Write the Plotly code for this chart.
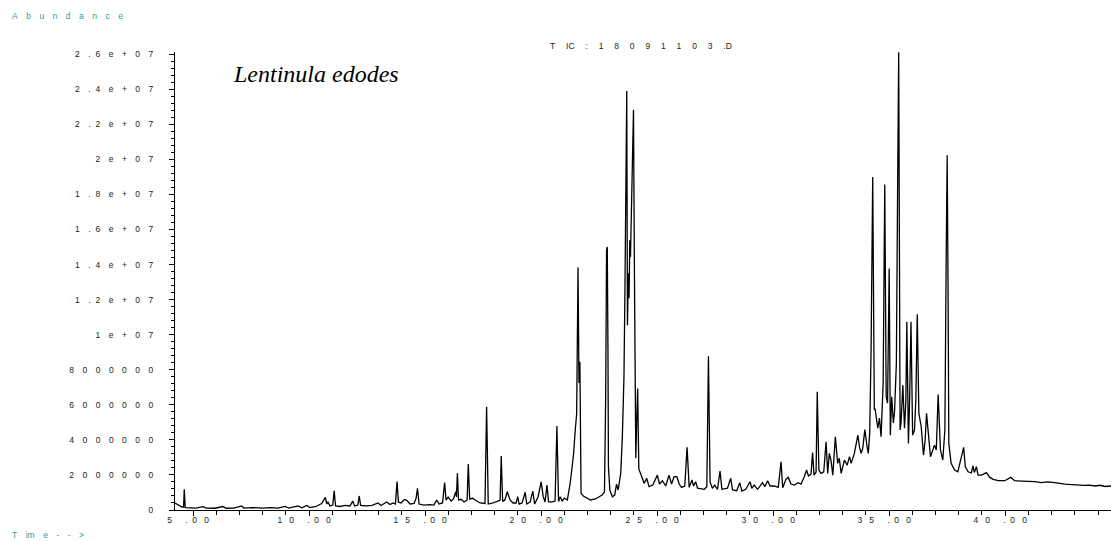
import plotly.graph_objects as go

# ---- chromatogram trace (time in min, abundance in millions) ----
time_min = [
    4.22, 4.35, 4.52, 4.59, 4.62, 4.66, 4.87, 5.13, 5.43, 5.56, 5.94, 6.29, 6.42, 6.76, 7.09, 7.19,
    7.54, 7.97, 8.36, 8.66, 8.96, 9.13, 9.52, 9.69, 9.90, 10.04, 10.30, 10.54, 10.70, 10.76, 10.81,
    10.90, 11.02, 11.08, 11.14, 11.33, 11.55, 11.76, 11.88, 11.96, 12.10, 12.16, 12.22, 12.45, 12.71,
    12.97, 13.10, 13.34, 13.49, 13.62, 13.72, 13.79, 13.85, 13.96, 14.11, 14.22, 14.35, 14.52, 14.61,
    14.67, 14.74, 14.95, 15.21, 15.38, 15.50, 15.60, 15.75, 15.84, 15.90, 15.99, 16.12, 16.22, 16.32,
    16.35, 16.39, 16.44, 16.55, 16.68, 16.81, 16.86, 16.92, 17.06, 17.15, 17.37, 17.58, 17.65, 17.72,
    17.92, 18.14, 18.23, 18.28, 18.34, 18.44, 18.54, 18.66, 18.79, 18.92, 18.99, 19.05, 19.18, 19.31,
    19.38, 19.53, 19.64, 19.72, 19.87, 20.00, 20.09, 20.17, 20.25, 20.32, 20.47, 20.60, 20.68, 20.75,
    20.82, 20.91, 21.00, 21.13, 21.18, 21.25, 21.32, 21.40, 21.47, 21.53, 21.59, 21.63, 21.67, 21.72,
    21.82, 21.98, 22.13, 22.34, 22.52, 22.63, 22.73, 22.78, 22.82, 22.85, 22.88, 22.90, 22.96, 23.07,
    23.17, 23.25, 23.32, 23.43, 23.50, 23.57, 23.61, 23.66, 23.69, 23.72, 23.76, 23.79, 23.82, 23.85,
    23.89, 23.92, 23.98, 24.02, 24.05, 24.08, 24.12, 24.16, 24.21, 24.29, 24.44, 24.55, 24.65, 24.81,
    25.01, 25.10, 25.23, 25.37, 25.51, 25.62, 25.73, 25.85, 25.95, 26.05, 26.19, 26.29, 26.38, 26.50,
    26.57, 26.66, 26.74, 27.03, 27.14, 27.21, 27.28, 27.38, 27.48, 27.60, 27.71, 27.79, 28.03, 28.17,
    28.25, 28.43, 28.56, 28.65, 28.82, 29.00, 29.08, 29.18, 29.33, 29.54, 29.64, 29.76, 29.87, 30.05,
    30.22, 30.34, 30.41, 30.55, 30.65, 30.77, 30.91, 31.08, 31.20, 31.34, 31.44, 31.52, 31.63, 31.70,
    31.76, 31.85, 31.90, 31.97, 32.06, 32.18, 32.28, 32.35, 32.42, 32.49, 32.57, 32.68, 32.78, 32.85,
    32.93, 33.07, 33.19, 33.29, 33.36, 33.50, 33.65, 33.72, 33.79, 33.86, 33.95, 34.05, 34.10, 34.16,
    34.22, 34.29, 34.34, 34.36, 34.39, 34.46, 34.51, 34.58, 34.65, 34.74, 34.81, 34.87, 34.93, 35.00,
    35.05, 35.11, 35.18, 35.23, 35.31, 35.36, 35.41, 35.45, 35.47, 35.51, 35.59, 35.66, 35.72, 35.76,
    35.83, 35.88, 35.94, 36.01, 36.09, 36.15, 36.21, 36.28, 36.38, 36.48, 36.55, 36.61, 36.68, 36.78,
    36.95, 37.03, 37.11, 37.21, 37.31, 37.40, 37.46, 37.50, 37.54, 37.57, 37.67, 37.82, 37.96, 38.11,
    38.21, 38.28, 38.40, 38.54, 38.61, 38.67, 38.76, 38.83, 38.98, 39.19, 39.34, 39.48, 39.70, 39.98,
    40.24, 40.41, 40.70, 40.99, 41.27, 41.57, 41.83, 42.14, 42.34, 42.57, 42.86, 43.15, 43.42, 43.64,
    43.87, 44.09, 44.30, 44.56,
]

abundance_millions = [
    0.40, 0.28, 0.17, 0.17, 1.18, 0.14, 0.11, 0.11, 0.19, 0.11, 0.10, 0.20, 0.10, 0.11, 0.23, 0.11,
    0.14, 0.11, 0.14, 0.11, 0.20, 0.11, 0.23, 0.13, 0.26, 0.14, 0.20, 0.37, 0.72, 0.34, 0.47,
    0.23, 0.28, 1.10, 0.23, 0.20, 0.26, 0.23, 0.51, 0.23, 0.28, 0.80, 0.26, 0.23, 0.26,
    0.40, 0.26, 0.46, 0.31, 0.40, 0.34, 1.62, 0.46, 0.40, 0.60, 0.54, 0.34, 0.37, 0.67,
    1.23, 0.34, 0.28, 0.31, 0.28, 0.57, 0.34, 0.40, 1.56, 0.57, 0.74, 0.51, 0.63, 1.04,
    0.74, 2.09, 0.57, 0.61, 0.46, 0.57, 2.62, 0.63, 0.67, 0.57, 0.40, 0.37, 5.89, 0.34,
    0.40, 0.51, 0.57, 3.08, 0.48, 0.57, 1.04, 0.57, 0.40, 0.40, 0.76, 0.34, 0.40, 1.01,
    0.34, 0.46, 1.08, 0.34, 0.76, 1.61, 0.76, 0.46, 1.42, 0.47, 0.46, 0.51, 4.79, 0.48,
    0.76, 0.51, 0.68, 0.57, 0.95, 1.52, 2.28, 3.23, 4.56, 5.47, 13.83, 7.24, 8.45, 0.95,
    0.80, 0.67, 0.57, 0.63, 0.74, 0.85, 1.04, 6.27, 14.81, 15.00, 9.12, 2.47, 1.14, 0.76,
    0.85, 1.48, 1.14, 2.09, 4.18, 7.60, 12.35, 18.99, 23.89, 10.54, 13.50, 12.08, 15.38, 14.42,
    17.09, 19.56, 22.83, 13.68, 8.55, 2.95, 5.13, 6.93, 2.34, 2.09, 1.52, 1.81, 1.33, 1.42,
    1.99, 1.48, 1.67, 1.37, 1.99, 1.48, 1.90, 1.90, 1.48, 1.29, 1.37, 3.57, 1.29, 1.71,
    1.37, 1.61, 1.24, 1.18, 1.33, 8.77, 1.61, 1.24, 1.42, 1.18, 2.22, 1.18, 1.24, 1.81,
    1.14, 1.10, 1.56, 1.08, 1.18, 1.61, 1.24, 1.42, 1.18, 1.56, 1.33, 1.67, 1.37, 1.37,
    1.29, 2.75, 1.27, 1.75, 1.86, 1.48, 1.42, 1.56, 1.48, 1.90, 2.28, 1.94, 2.05, 3.27,
    1.99, 2.17, 6.74, 2.28, 2.09, 2.18, 3.89, 2.09, 3.23, 2.85, 1.99, 4.18, 2.66, 2.95,
    2.09, 2.85, 2.56, 3.04, 2.66, 3.23, 4.27, 3.61, 3.23, 3.52, 4.58, 3.59, 3.23, 4.37,
    9.12, 18.99, 10.26, 5.70, 5.79, 5.13, 4.67, 5.24, 4.18, 7.22, 18.56, 6.46, 6.10, 13.77,
    4.27, 6.46, 4.96, 5.58, 8.36, 17.66, 26.11, 11.97, 4.56, 4.96, 7.12, 4.66, 6.27, 10.73,
    3.80, 6.27, 10.73, 4.27, 4.56, 6.27, 11.17, 5.51, 4.75, 3.13, 3.99, 5.51, 4.27, 3.04,
    3.70, 3.42, 6.59, 3.42, 2.85, 4.56, 14.81, 20.23, 11.97, 3.80, 2.66, 2.28, 2.18, 2.95,
    3.57, 2.47, 2.18, 2.11, 2.51, 2.14, 2.47, 1.99, 1.99, 2.13, 1.86, 1.75, 1.67, 1.67,
    1.86, 1.67, 1.65, 1.67, 1.62, 1.56, 1.60, 1.56, 1.51, 1.48, 1.45, 1.42, 1.40, 1.42,
    1.37, 1.41, 1.34, 1.37,
]

y_tick_values = [0, 2e6, 4e6, 6e6, 8e6, 1e7, 1.2e7, 1.4e7, 1.6e7, 1.8e7, 2e7, 2.2e7, 2.4e7, 2.6e7]
y_tick_raw = ["0", "2000000", "4000000", "6000000", "8000000", "1e+07", "1.2e+07", "1.4e+07",
              "1.6e+07", "1.8e+07", "2e+07", "2.2e+07", "2.4e+07", "2.6e+07"]
x_tick_values = [5, 10, 15, 20, 25, 30, 35, 40]
x_tick_raw = ["5.00", "10.00", "15.00", "20.00", "25.00", "30.00", "35.00", "40.00"]

EM = "\u2003"
NB = "\u00a0"


def spaced_y(s):
    out = ""
    for i, ch in enumerate(s):
        if i > 0:
            out += (NB * 2) if s[i - 1] == "." else EM
        out += ch
    return out


def spaced_x(s):
    out = ""
    for i, ch in enumerate(s):
        if i > 0:
            if ch == ".":
                out += EM + NB * 2
            elif s[i - 1] == ".":
                out += NB * 2
            else:
                out += NB * 3
        out += ch
    return out


abundance = [v * 1e6 for v in abundance_millions]

FIG_W, FIG_H = 1111, 541
L, T, B = 175, 52, 31
PLOT_W = FIG_W - L
PLOT_H = FIG_H - T - B


def px(sx):
    return (sx - L) / PLOT_W


def py(sy):
    return (FIG_H - B - sy) / PLOT_H


fig = go.Figure()
fig.add_trace(go.Scatter(x=time_min, y=abundance, mode="lines",
                         line=dict(color="black", width=1.3), hoverinfo="skip",
                         showlegend=False))

SANS = "Liberation Sans, Arial, sans-serif"
TICKFONT = dict(family=SANS, size=8.5, color="#222222")
TEAL = "#2f9a9a"

G = EM + NB
title_text = "T" + G + "IC" + G + ":" + G + G.join("18091103") + G + ".D"

fig.update_layout(
    width=FIG_W, height=FIG_H,
    margin=dict(l=L, r=0, t=T, b=B, pad=0, autoexpand=False),
    paper_bgcolor="white", plot_bgcolor="white",
    hovermode=False,
    xaxis=dict(range=[4.22, 44.56], showgrid=False, zeroline=False, automargin=False,
               showline=True, linecolor="black", linewidth=1,
               ticks="outside", ticklen=5, tickcolor="black",
               tickvals=x_tick_values, ticktext=[spaced_x(s) for s in x_tick_raw],
               tickfont=TICKFONT, ticklabelshift=-5, ticklabelstandoff=-3,
               minor=dict(dtick=1, tick0=0, ticks="outside", ticklen=4, tickcolor="black")),
    yaxis=dict(range=[0, 2.612e7], showgrid=False, zeroline=False, automargin=False,
               showline=True, linecolor="black", linewidth=1,
               ticks="outside", ticklen=5, tickcolor="black",
               tickvals=y_tick_values, ticktext=[spaced_y(s) for s in y_tick_raw],
               tickfont=TICKFONT, ticklabelstandoff=14,
               minor=dict(dtick=4e5, tick0=0, ticks="outside", ticklen=3, tickcolor="black")),
    annotations=[
        dict(text="Lentinula edodes", xref="paper", yref="paper",
             x=px(231), y=py(74), xanchor="left", yanchor="middle",
             showarrow=False,
             font=dict(family="Liberation Serif", size=24, color="black", style="italic")),
        dict(text=title_text, xref="paper", yref="paper",
             x=px(641), y=py(46), xanchor="center", yanchor="middle",
             showarrow=False, font=dict(family=SANS, size=8.5, color="#222222")),
        dict(text=EM.join("Abundance"), xref="paper", yref="paper",
             x=px(10), y=py(16), xanchor="left", yanchor="middle",
             showarrow=False, font=dict(family=SANS, size=8.5, color=TEAL)),
        dict(text="T" + EM + "im" + EM + "e" + EM + "-" + EM + "-" + EM + ">", xref="paper", yref="paper",
             x=px(10), y=py(535), xanchor="left", yanchor="middle",
             showarrow=False, font=dict(family=SANS, size=8.5, color=TEAL)),
    ],
)

# remove the browser's default 8px page margin so the figure starts at the window corner
fig.write_html("out.html", config={"displayModeBar": False},
               post_script="document.body.style.margin='0';document.body.style.overflow='hidden';")
